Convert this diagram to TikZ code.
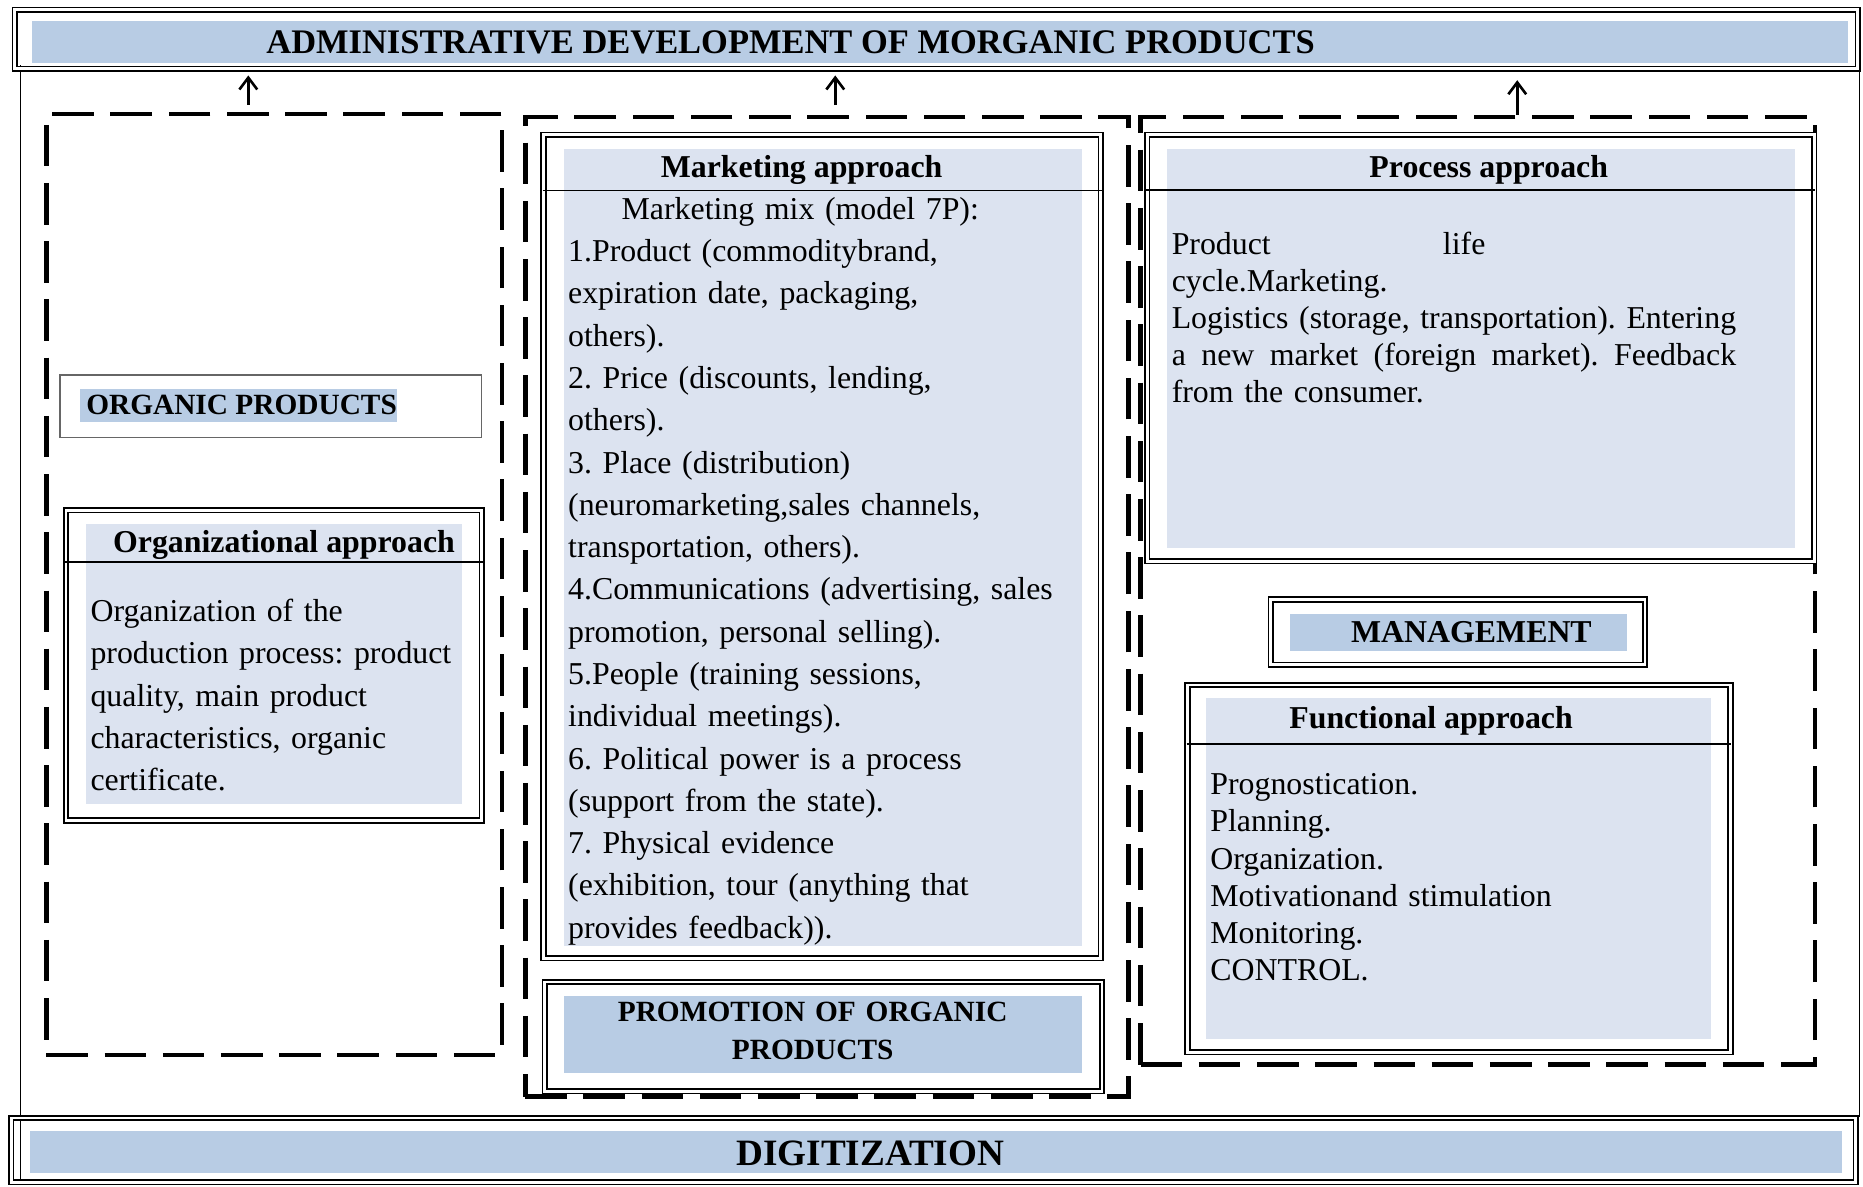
\documentclass[tikz,border=0pt]{standalone}
\usepackage{fontspec}
\setmainfont{Liberation Serif}
\usetikzlibrary{fit,arrows.meta}
\definecolor{bandblue}{HTML}{B8CCE4}
\definecolor{paleblue}{HTML}{DCE3F0}
% a line whose word spaces stretch to a given width
\newcommand{\spreadto}[2]{\makebox[#1][s]{\spaceskip=.25em plus 1fil\relax #2}}
\begin{document}
\frenchspacing
\begin{tikzpicture}[x=1pt,y=-1pt,
  frame/.style={draw, double, line width=1.4pt, double distance=2.4pt, inner sep=0pt},
  group/.style={draw, line width=4pt, dash pattern=on 35pt off 14pt, inner sep=0pt},
  rule/.style={line width=1.2pt},
  body/.style={font=\fontsize{26.8}{35.6}\selectfont, inner sep=0pt, anchor=base west},
  listtext/.style={font=\fontsize{26.8}{31}\selectfont, inner sep=0pt, anchor=base west},
  head/.style={font=\bfseries\fontsize{26.8}{32}\selectfont, inner sep=0pt, anchor=base west},
  upsign/.style={line width=2.2pt, -{Straight Barb[length=10pt,width=15pt]}},
]
\useasboundingbox (0,0) rectangle (1568,999);
\fill[white] (0,0) rectangle (1568,999);

% thin outer frame
\draw[line width=1pt] (17,55) -- (17,993);
\draw[line width=1pt] (1565,55) -- (1565,940);

% top banner
\fill[bandblue] (27,18) rectangle (1555,53);
\node[frame, fit={(12.5,8.1) (1563.5,57.8)}] (topbar) {};
\node[font=\bfseries\fontsize{29}{34}\selectfont, inner sep=0pt, anchor=base west] (toptitle) at (224,45)
  {ADMINISTRATIVE DEVELOPMENT OF MORGANIC PRODUCTS};

% bottom banner
\fill[bandblue] (25,952) rectangle (1550,987.6);
\node[frame, fit={(9.5,941) (1562,995)}] (botbar) {};
\node[font=\bfseries\fontsize{31.3}{36}\selectfont, inner sep=0pt, anchor=base west] (digit) at (619.5,980.6) {DIGITIZATION};

% dashed groups
\node[group, fit={(39,96) (422.5,888)}] (leftgrp) {};
\node[group, fit={(442,98.5) (950,923)}] (midgrp) {};
\node[group, fit={(960,98.5) (1527.5,896)}] (rightgrp) {};

% arrows to the top banner
\draw[upsign, shorten <=6pt, shorten >=5pt] (209,0 |- leftgrp.north) -- (209,0 |- topbar.south);
\draw[upsign, shorten <=8pt, shorten >=5pt] (703,0 |- midgrp.north) -- (703,0 |- topbar.south);
\draw[upsign, shorten >=9pt] (1277,0 |- rightgrp.north) -- (1277,0 |- topbar.south);

% organic products
\node[draw=black!60, line width=1.3pt, inner sep=0pt, fit={(50.6,315.6) (405.4,368.4)}] (orgframe) {};
\fill[bandblue] (67,327) rectangle (334,355);
\node[font=\bfseries\fontsize{24.7}{30}\selectfont, inner sep=0pt, anchor=base west] (orgprod) at (72.4,349) {ORGANIC PRODUCTS};

% organizational approach
\fill[paleblue] (72,441) rectangle (389,677);
\node[frame, fit={(55.5,429.5) (405.5,690.5)}] (orgbox) {};
\draw[rule] (orgbox.west |- 0,473) -- (orgbox.east |- 0,473);
\node[head] (orghead) at (95,465) {Organizational approach};
\node[body, text width=320pt] (orgbody) at (76,523)
  {Organization of the\\production process: product\\quality, main product\\characteristics, organic\\certificate.};

% marketing approach
\fill[paleblue] (475,125) rectangle (911,796);
\node[frame, fit={(457.5,113.5) (926.5,806.5)}] (mktbox) {};
\draw[rule] (mktbox.west |- 0,160.5) -- (mktbox.east |- 0,160.5);
\node[head] (mkthead) at (556,149) {Marketing approach};
\node[body, text width=440pt] (mktbody) at (478,184.5)
  {\hspace*{45pt}Marketing mix (model 7P):\\
   1.Product (commoditybrand,\\
   expiration date, packaging,\\
   others).\\
   2. Price (discounts, lending,\\
   others).\\
   3. Place (distribution)\\
   (neuromarketing,sales channels,\\
   transportation, others).\\
   4.Communications (advertising, sales\\
   promotion, personal selling).\\
   5.People (training sessions,\\
   individual meetings).\\
   6. Political power is a process\\
   (support from the state).\\
   7. Physical evidence\\
   (exhibition, tour (anything that\\
   provides feedback)).};

% promotion
\fill[bandblue] (475,838) rectangle (911,903);
\node[frame, fit={(458.5,826.5) (927.5,918.5)}] (promobox) {};
\node[font=\bfseries\fontsize{24.7}{32}\selectfont, inner sep=0pt, text width=400pt, anchor=base] (promotext) at (684,860)
  {\centering PROMOTION OF ORGANIC\\PRODUCTS\par};

% process approach
\fill[paleblue] (982,125) rectangle (1511,461);
\node[frame, fit={(965.5,113.5) (1527,472.5)}] (procbox) {};
\draw[rule] (procbox.west |- 0,160) -- (procbox.east |- 0,160);
\node[head, anchor=base] (prochead) at (1253,149) {Process approach};
\node[listtext, text width=480pt] (procbody) at (986,214.6)
  {\spreadto{264pt}{Product life}\\
   cycle.Marketing.\\
   \spreadto{475pt}{Logistics (storage, transportation). Entering}\\
   \spreadto{475pt}{a new market (foreign market). Feedback}\\
   from the consumer.};

% management
\fill[bandblue] (1086,517) rectangle (1369,548);
\node[frame, fit={(1069.5,504.5) (1384.5,559.5)}] (mgmtbox) {};
\node[head] (mgmt) at (1137,541) {MANAGEMENT};

% functional approach
\fill[paleblue] (1015,587.6) rectangle (1440,874.6);
\node[frame, fit={(999.5,576.5) (1456.5,885.5)}] (funcbox) {};
\draw[rule] (funcbox.west |- 0,626) -- (funcbox.east |- 0,626);
\node[head] (funchead) at (1085,613) {Functional approach};
\node[font=\fontsize{26.8}{31.2}\selectfont, inner sep=0pt, anchor=base west, text width=400pt] (funcbody) at (1018.5,669)
  {Prognostication.\\Planning.\\Organization.\\Motivationand stimulation\\Monitoring.\\CONTROL.};
\end{tikzpicture}
\end{document}
